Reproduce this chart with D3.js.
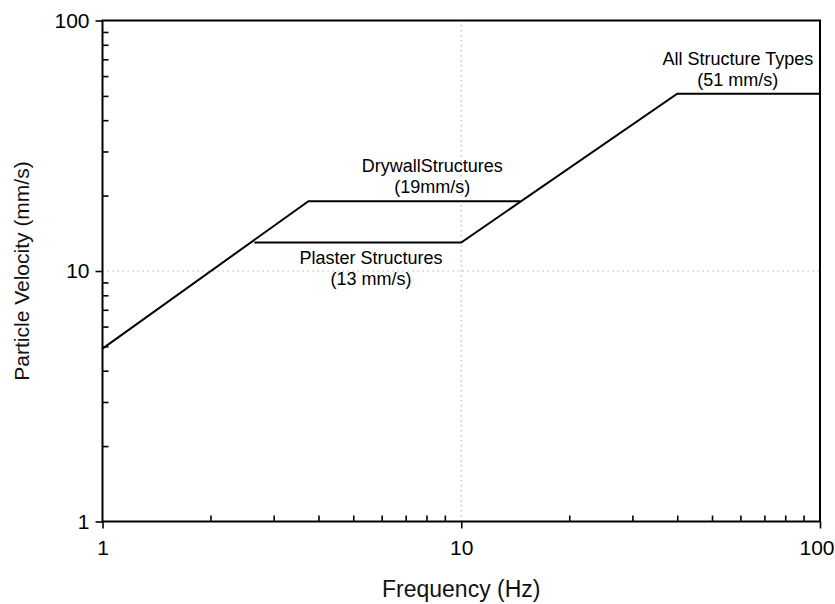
<!DOCTYPE html>
<html>
<head>
<meta charset="utf-8">
<script src="https://cdn.jsdelivr.net/npm/d3@7"></script>
<style>
  html, body { margin: 0; padding: 0; background: #fff; }
  svg { display: block; font-family: "Liberation Sans", Arial, sans-serif; }
</style>
</head>
<body>
<svg id="chart" width="835" height="604"></svg>
<script>
// Frequency (Hz) / particle velocity (mm/s) limit curves
const drywallCurve = [[1, 4.9], [3.75, 19], [14.6, 19]];
const plasterCurve = [[2.65, 13], [10, 13], [40, 51], [100, 51]];

const xDomain = [1, 100];
const yDomain = [1, 100];
const majorTicks = [1, 10, 100];
const minorTicks = [2, 3, 4, 5, 6, 7, 8, 9, 20, 30, 40, 50, 60, 70, 80, 90];

const annotations = [
  { lines: ["DrywallStructures", "(19mm/s)"], f: 8.3, v: 19, pos: "above" },
  { lines: ["Plaster Structures", "(13 mm/s)"], f: 5.6, v: 13, pos: "below" },
  { lines: ["All Structure Types", "(51 mm/s)"], f: 59, v: 51, pos: "above" }
];

const xTitle = "Frequency (Hz)";
const yTitle = "Particle Velocity (mm/s)";

const margin = { left: 102.5, right: 15, top: 20.5, bottom: 82.5 };
const W = 835, H = 604;
const svg = d3.select("#chart");

const x = d3.scaleLog().domain(xDomain).range([margin.left, W - margin.right]);
const y = d3.scaleLog().domain(yDomain).range([H - margin.bottom, margin.top]);

// dotted major grid (only the interior decade lines)
const g = svg.append("g");
g.selectAll("line.gx").data([10]).join("line")
  .attr("x1", d => x(d)).attr("x2", d => x(d))
  .attr("y1", y(yDomain[0])).attr("y2", y(yDomain[1]))
  .attr("stroke", "#b8b8b8").attr("stroke-width", 1.2).attr("stroke-dasharray", "1.5,3.5");
g.selectAll("line.gy").data([10]).join("line")
  .attr("y1", d => y(d)).attr("y2", d => y(d))
  .attr("x1", x(xDomain[0])).attr("x2", x(xDomain[1]))
  .attr("stroke", "#b8b8b8").attr("stroke-width", 1.2).attr("stroke-dasharray", "1.5,3.5");

// frame
svg.append("rect")
  .attr("x", x(xDomain[0])).attr("y", y(yDomain[1]))
  .attr("width", x(xDomain[1]) - x(xDomain[0]))
  .attr("height", y(yDomain[0]) - y(yDomain[1]))
  .attr("fill", "none").attr("stroke", "#000").attr("stroke-width", 2);

const fmt = d => String(d);

// bottom axis: major ticks outward with labels
const xAxis = svg.append("g").attr("transform", `translate(0,${y(yDomain[0])})`)
  .call(d3.axisBottom(x).tickValues(majorTicks).tickFormat(fmt).tickSize(7).tickPadding(12));
// minor ticks inward
svg.append("g").attr("transform", `translate(0,${y(yDomain[0])})`)
  .call(d3.axisTop(x).tickValues(minorTicks).tickFormat("").tickSize(6));

// left axis
const yAxis = svg.append("g").attr("transform", `translate(${x(xDomain[0])},0)`)
  .call(d3.axisLeft(y).tickValues(majorTicks).tickFormat(fmt).tickSize(7).tickPadding(6));
svg.append("g").attr("transform", `translate(${x(xDomain[0])},0)`)
  .call(d3.axisRight(y).tickValues(minorTicks).tickFormat("").tickSize(6));

svg.selectAll(".domain").remove();
svg.selectAll(".tick line").attr("stroke", "#000").attr("stroke-width", 1.6);
svg.selectAll(".tick text").attr("fill", "#000")
  .style("font-family", "Liberation Sans, Arial, sans-serif").style("font-size", "21px");

// keep the last frequency label inside the page edge
xAxis.selectAll(".tick text").filter(d => d === xDomain[1])
  .attr("text-anchor", "end").attr("x", W - 1 - x(xDomain[1]));

// limit curves
const line = d3.line().x(d => x(d[0])).y(d => y(d[1]));
[drywallCurve, plasterCurve].forEach(c => {
  svg.append("path").datum(c).attr("d", line)
    .attr("fill", "none").attr("stroke", "#000").attr("stroke-width", 2)
    .attr("stroke-linejoin", "miter");
});

// annotations
annotations.forEach(a => {
  const t = svg.append("text")
    .attr("x", x(a.f)).attr("text-anchor", "middle")
    .attr("font-size", 18).attr("fill", "#000");
  const baseY = a.pos === "below" ? y(a.v) + 22 : y(a.v) - 29;
  a.lines.forEach((s, i) => {
    t.append("tspan").attr("x", x(a.f)).attr("y", baseY + i * 21).text(s);
  });
});

// axis titles
svg.append("text")
  .attr("x", x(10)).attr("y", 597)
  .attr("text-anchor", "middle").attr("font-size", 23).attr("fill", "#111")
  .text(xTitle);
svg.append("text")
  .attr("transform", `translate(29,${y(10)}) rotate(-90)`)
  .attr("text-anchor", "middle").attr("font-size", 21).attr("fill", "#111")
  .text(yTitle);
</script>
</body>
</html>
